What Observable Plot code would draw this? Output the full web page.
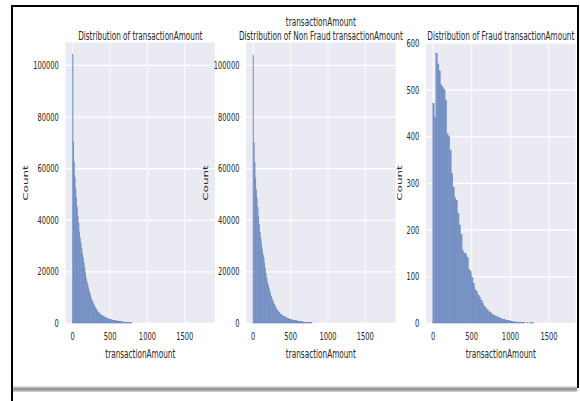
<!DOCTYPE html>
<html><head><meta charset="utf-8">
<script src="https://cdn.jsdelivr.net/npm/d3@7"></script>
<script src="https://cdn.jsdelivr.net/npm/@observablehq/plot@0.6"></script>
<style>
html,body{margin:0;padding:0;background:#fff;overflow:hidden;width:580px;height:401px;}
#frame{position:absolute;left:11px;top:5px;width:564px;height:381px;border:2px solid #000;border-bottom:none;}
#leftline{position:absolute;left:11px;top:5px;width:2px;height:396px;background:#000;}
#shadow{position:absolute;left:13px;top:386px;width:564px;height:6px;background:linear-gradient(#eeeeee,#8c8c8c 50%,#d6d6d6);}
#stage{position:absolute;left:0;top:0;width:951px;height:401px;transform:scaleX(0.61);transform-origin:0 0;}
#stage svg{position:absolute;top:0;overflow:visible;}
</style></head>
<body>
<div id="frame"></div><div id="leftline"></div><div id="shadow"></div>
<div id="stage"></div>
<script>
const SX = 0.61;
const xTicks = [0, 500, 1000, 1500];
const countTicksAll = [0, 20000, 40000, 60000, 80000, 100000];
const countTicksFraud = [0, 100, 200, 300, 400, 500, 600];
const binWidthAll = 10;
const binWidthFraud = 20;

const totalCounts = [
  104000, 70000, 62500, 56500, 52000, 48500, 45000, 41500, 38500, 35500,
  33000, 31000, 29000, 27000, 25500, 23500, 21500, 19500, 17500, 16000,
  15000, 13800, 12600, 11500, 10500, 9600, 8800, 8000, 7400, 6800,
  6200, 5600, 5100, 4700, 4300, 4000, 3700, 3400, 3150, 2950,
  2750, 2600, 2450, 2300, 2150, 2000, 1850, 1720, 1600, 1480,
  1380, 1300, 1220, 1150, 1080, 1010, 950, 890, 840, 790,
  740, 680, 620, 570, 520, 480, 440, 400, 370, 340,
  310, 290, 270, 250, 230, 210, 190, 170, 150, 60
];
const nonFraudCounts = [
  103760, 69760, 62260, 56240, 51730, 48230, 44740, 41250, 38250, 35260,
  32760, 30760, 28770, 26780, 25280, 23290, 21300, 19310, 17320, 15820,
  14830, 13640, 12450, 11360, 10370, 9480, 8690, 7900, 7310, 6720,
  6130, 5540, 5050, 4660, 4260, 3970, 3670, 3380, 3130, 2940,
  2740, 2590, 2440, 2290, 2140, 1990, 1840, 1710, 1590, 1470,
  1370, 1290, 1215, 1145, 1075, 1005, 945, 885, 835, 785,
  735, 675, 615, 565, 515, 476, 436, 397, 367, 337,
  307, 288, 268, 248, 228, 208, 188, 168, 148, 58
];
const fraudCounts = [
  470, 440, 578, 555, 540, 510, 505, 500, 478, 405,
  400, 370, 320, 290, 268, 262, 235, 210, 190, 155,
  150, 148, 140, 115, 110, 98, 85, 72, 68, 60,
  55, 48, 42, 36, 32, 28, 24, 22, 19, 17,
  15, 14, 12, 11, 9, 8, 7, 6, 5, 5,
  4, 3, 3, 2, 2, 2, 1, 2, 1, 1,
  0, 1, 0, 1, 1
];

const titles = [
  "Distribution of transactionAmount",
  "Distribution of Non Fraud transactionAmount",
  "Distribution of Fraud transactionAmount"
];
const supTitle = "transactionAmount";
const xLabel = "transactionAmount";
const yLabel = "Count";

const stage = document.getElementById("stage");

function panel({counts, bw, xDomain, yDomain, yTicks, title, extraTitle, refLeft, yLabelDx}) {
  const ML = 75, MR = 12, AW = 245, MT = 42, MB = 47, H = 370;
  const data = counts.map((c, i) => ({x1: i * bw, x2: (i + 1) * bw, count: c})).filter(d => d.count > 0);
  const marks = [
    Plot.frame({fill: "#EAEAF2", stroke: "none"}),
    Plot.gridX(xTicks, {stroke: "#fff", strokeOpacity: 1, strokeWidth: 1.4}),
    Plot.gridY(yTicks, {stroke: "#fff", strokeOpacity: 1, strokeWidth: 1.3}),
    Plot.rectY(data, {x1: "x1", x2: "x2", y: "count", fill: "#7591c4", stroke: "#6a86bd", strokeWidth: 0.5}),
    Plot.axisX(xTicks, {tickSize: 0, tickPadding: 9, fontSize: 11, label: null, tickFormat: d3.format("d")}),
    Plot.axisY(yTicks, {tickSize: 0, tickPadding: 11, fontSize: 11, label: null, tickFormat: d3.format("d")}),
    Plot.text([title], {text: d => d, frameAnchor: "top", dy: -11.5, fontSize: 12}),
    Plot.text([xLabel], {text: d => d, frameAnchor: "bottom", dy: 34, fontSize: 12}),
    Plot.text([yLabel], {text: d => d, frameAnchor: "left", textAnchor: "middle", rotate: -90, dx: yLabelDx, fontSize: 12})
  ];
  if (extraTitle) marks.push(Plot.text([extraTitle], {text: d => d, frameAnchor: "top", dy: -25, fontSize: 12}));
  const svg = Plot.plot({
    width: ML + AW + MR, height: H,
    marginLeft: ML, marginRight: MR, marginTop: MT, marginBottom: MB,
    style: {background: "transparent", fontFamily: "DejaVu Sans", color: "#262626", overflow: "visible"},
    x: {domain: xDomain},
    y: {domain: yDomain},
    marks
  });
  svg.style.left = (refLeft / SX - ML) + "px";
  stage.appendChild(svg);
}

panel({counts: totalCounts, bw: binWidthAll, xDomain: [-95, 1905], yDomain: [0, 108900],
  yTicks: countTicksAll, title: titles[0], refLeft: 65, yLabelDx: -65});
panel({counts: nonFraudCounts, bw: binWidthAll, xDomain: [-95, 1905], yDomain: [0, 108900],
  yTicks: countTicksAll, title: titles[1], extraTitle: supTitle, refLeft: 246, yLabelDx: -67});
panel({counts: fraudCounts, bw: binWidthFraud, xDomain: [-90, 1842], yDomain: [0, 602],
  yTicks: countTicksFraud, title: titles[2], refLeft: 426, yLabelDx: -43});
</script>
</body></html>
